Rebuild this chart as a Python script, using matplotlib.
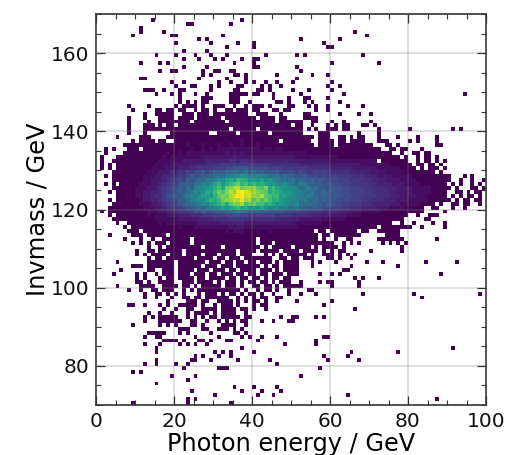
import numpy as np
import matplotlib
matplotlib.use('Agg')
import matplotlib.pyplot as plt
from matplotlib.ticker import MultipleLocator

# bin edges, 1 GeV bins
energy_edges = list(range(0, 101))
mass_edges = list(range(70, 171))

# counts per bin, top row is 169-170 GeV, ten bins per block, "-" is an empty block
# . = empty, 1-9 then a-z for higher counts
count_rows = [
    "-",
    "- ....1..... - .......1..",
    "- - ...11..... ....1.....",
    "- .1........",
    "- .1.....1.. - - - - ......1...",
    ".........1 .........1 1......... ..1....... - - .........1",
    "- - ......1.1. - - ..1....... ..1.......",
    "- - 1........1 ......1... 1......... ........1.",
    "- - - ...1...... 1......... .........1 1.........",
    "- - ..1.....1.",
    "- .....1.... 1....1...1 ...1...... ...1...... .1.1...... ........1.",
    "- - ..1...1... 1.1....1.. 11........",
    "- .1....1.1. - .....1.... 1......... - 1......... ..1.......",
    "- - ..1.....1. - 11........ .1........",
    "- ......1..1 1......1.. 11..11.... - ..1.......",
    "- - .......1.1 .....11.1. ......1... .....1...1",
    "- .11....... ......1... ...1....1. - .1........",
    "- .........1 ..1....... .1..1...1. 1..1..1... 1......... 1.........",
    "- - 1...11...1 .1....11.. ..1.1..1.. .........1 ..1.......",
    "- ..111..1.. .11......1 .....11... .11.1..... 1...1..... 1.........",
    "- .....1...1 .1...1..1. ....11111. 11...1.... ..1....... ...1...... - - ....1.....",
    "- - .1.....111 ....111... .....1...1 ...11....1",
    "- - .1.1.1.11. ....111..1 ......11.1 ...1.1.... ..1.......",
    "........1. ...1...... 1.1111.1.. 111..1..1. 111.1....1 1...1.1..1 ....1...1.",
    ".........1 .....11.11 .11..1.11. 1..11.111. 11...11.11 ......1..1",
    "- ..1..11111 ..111.111. 111111111. .111...1.. ...11..... ..1....1.. 1.........",
    "........1. ..1...1111 .1111.1111 11.1111111 1.1111.11. ...1111...",
    "........1. ...1..1111 1111.11111 111.111111 111111.111 111..11... 1..1...... 1.........",
    "........1. ..111.1.11 .111111111 1111111111 1111111111 .11..1...1 .1.11...11 .1........",
    "........1. ..11111111 1111111111 1111.11111 1.11111111 111.1.1..1 11.11..... ..1....... 1......... .1.1......",
    "........1. ..1......1 111111111. .11111.111 1111.11111 111....111 .......1.. ..1.......",
    ".....1.... .111....11 1111111111 1111111111 1111111111 111111.111 ..11.1.11. ..1....1.. ..1....1..",
    ".........1 .1111.11.. 1111111111 1111111211 1111111.11 11111..111 1.11.1111. ..111..... 1.1....1..",
    ".......111 1111111111 1112111211 1211211211 1211111111 111111.111 1.11111111 1...11.1.. .......11.",
    "..1.1...11 1.11111111 1111211212 1222222222 2212212211 1111111111 1111111111 111..11.11 ...1......",
    "..1....111 1111111121 1212222222 2223232322 2222222222 2222111111 1111111111 111111..1. .11.11....",
    ".1...11111 1111111212 2222222333 3333343333 3333333333 3222222222 2211111111 11111111.1 ..1.11.1..",
    ".1..111111 1111112222 2233333344 4444554554 4444444444 4333333333 2222222222 22.1111111 ..1.11.1.1",
    ".1.1.11111 1111122223 3333444455 5566676666 6666655555 5544444444 3333333322 2222211111 1.11.11.1.",
    ".1.1.11111 1111222233 3444556666 77788999a8 8888777766 6666555555 4444443333 3322222211 11.1.111.1",
    "....111111 1112223335 4657688a79 baacbdcbca cab9a9a888 8787667676 5555544444 3333222221 1111111.1.",
    "..1.111111 1122233445 5768a89bac cdcefegihf ffeecddbca a99a878787 7766665554 4433332222 2111111111 1...1.1...",
    "....111111 1122333456 687a9acbed fhgjkimlkh ihjgifeddc dbcaab9a98 8877766655 5444333322 2211111111 1..1..1..1",
    "..1.1.1111 1222334567 79ab9cdfeg jlikmnplnk mkljhigfhe dcedbbaa9a 9887776666 5544443332 2221111111 .1.1..1.1.",
    "....111111 2223345678 8a9cbefghi lnkpqstpqr ronqkmjihg gecdebcaa9 a998877766 6555444333 3222221111 1.1...11.1",
    "...1.11111 2233445678 9bacdgfhkj mpnqtrvyut sqpokmljhi gfedcdbaca a998877776 6555544333 3222221111 ..11.1.11.",
    ".....11111 2233455689 a9cdfegjih loqpsuxwtu rqsonlmijh gfecedbaba 9a98887766 6655544433 3322211111 .1.1.11.1.",
    "...1.11111 1233445678 8bacefhgjl kmpqrtsvrs oqnpmklihg ffdecbcaba 9988877766 5555444333 2222211111 1.1.11.11.",
    "....111111 1222334567 79abcdegfi jlnkoqpsno pmnkljhigf egdccbba9a 9887766655 5444433322 2221111.1. .11.11..1.",
    "...1111111 1122233456 6789abcbde fgihjkmjkh ihjgefgdec cdbaa9a988 7776655544 4433322221 1111..11.. .1..1.....",
    ".1.1111111 1112223344 5667798a9a abacdcedcb bcaba9a988 8877776655 5544433322 2221111111 1111.....1",
    "...1.11111 1112122233 3444555666 7778899887 7777776666 5555544444 3333222211 1111111111 ..1..111..",
    "....111111 1111122222 2333334444 5555666655 5555554444 4433333322 2222111111 111111111. ....11....",
    ".....1..11 1111112122 2222223333 3344444433 3333333333 3222222211 1111111111 111111..1. .1....1..1",
    ".......1.1 1111111111 1211122222 2222323322 2222222222 2211111111 1111111111 11.1111111 1..1.....1",
    "........11 1.11111111 1111111111 1112122211 1211211111 111111.11. 1111111.11 ..111111..",
    "...1.....1 11.11111.1 1111111111 1111111111 1111111111 1111111.11 .1111111.. ....1111..",
    ".......1.. .1..1..111 1111.11111 1111111111 1.11111111 1111111.1. .1..11.... ..1111111. .......1..",
    ".........1 .1.1.111.1 1111.11111 1111111111 1.111.1111 1111111111 1..1.1.1.. ...1.1.1.1",
    "- ...1..1.11 1111111.11 11.1111111 11.1.11111 .1111.1.11 11.1...... ........1.",
    "- 1..11.1111 11.1111111 111111.111 1.11111.11 11.1111.1. 1.11...... 1.......1.",
    "- 1.1.1111.1 11.1111.11 1.1111.111 ...1.1.1.1 1111.1..11 1.1.1.1...",
    "- ...1.11.11 11111.1111 .11.111.11 11111..11. 11.111...1 1.1..1....",
    ".....1.... ...1111111 .1111111.1 11.11.11.1 1.111.1.11 11...1.1.. .1.......1 ...1...... ....1..... ..1.......",
    ".........1 11.1111111 .111111.11 1.111.1111 11.1.11.11 11...1.... .....1.... .......1..",
    "......1... ...11..111 .1111.111. 111.11.111 1.111.1.11 11........ ...11.....",
    "....1..... 1.1..1.111 .111.111.1 1.111.11.1 1.11.111.1 11.....1.. 1.1....... - ........1.",
    "- 1.1...1.11 .1111.11.1 111.11.11. 11.1.11.11 - ......1.1. ..1.......",
    "- 11.1..1111 ..111.1111 .1.111.1.1 1.11.1.111 ..1....1.1 1......1..",
    ".....1.... .1111..111 1.11.1.111 11.111.1.. 11.11.1.11 111....... 1......1..",
    "........1. .1..11.111 ..1.1.1111 1111111.1. .1.11.1..1 ....11....",
    "- ..1..11.1. 1.1...1.11 1.1.11.1.1 1.1..1...1 ..1...1... ........1. - .1........ ........1.",
    "- ..1..1...1 ..11.11.11 1111..1.1. 1.11..11.. - - - ...1......",
    "- ........1. ...111.11. .1111.1.1. 11.1..1... .1........ 1.........",
    "........11 ..1...1.1. .11111.1.. 1.111.1... 1.11...... ........1.",
    "- .......1.. 1..11..111 1.1111.11. 1..1...... - ......1...",
    "- ...1..1..1 ...1.1111. 1.1111..1.",
    "- ..1.1.1111 1..1.1.1.1 1.11111.11 .......1.. 11....1.1.",
    "- ..1...1111 11..11..1. .1.1.1.11. ..1..1...1 1.........",
    ".........1 ......1.1. 1...11.1.. ..1111..1.",
    "- - .111...11. .111.1.1..",
    "- ...11111.. .1.1.....1 .....11.1.",
    "- ..1..11... .....1.... .1.....1.1 ..1...1... ........11",
    "- .......111 1.1...11.1 ...11..... .1........ ......1...",
    "- ..1...1... .1.1.1..1. - ........1. ......1...",
    "- .....1.... - .......1.. - - - - - .1........",
    "- .....1.... - 1.1.1..... 1......... - .....1.... .......1..",
    "- - .....1.1.. .1..1..... - ........1. ....1.....",
    "- .....1.... ....11...1 ......1... ....1..... .........1 .......1..",
    "- ..1..1.... 1..1...... - ......1...",
    "- - ..1....... .111...... - .......1..",
    ".........1 .1........",
    "- .........1 .....1.... - - ..1.......",
    "- - ...1......",
    "- .....1....",
    "- - - .....1.... 1.....1...",
    "- - ....1..... .......1.. ..1....1..",
    "- - - 1......... .1...1.... - ....1.....",
    "- - ...1.1.... - - - - - .......1..",
    ".........1 - ...1...... ....1.....",
]
x_ticks = [0, 20, 40, 60, 80, 100]
y_ticks = [80, 100, 120, 140, 160]


def decode_rows(rows):
    counts = np.zeros((len(rows), 100))
    for i, row in enumerate(rows):
        blocks = [("." * 10 if b == "-" else b.ljust(10, ".")[:10]) for b in row.split()]
        text = "".join(blocks).ljust(100, ".")
        for j, c in enumerate(text):
            if c != ".":
                counts[i, j] = int(c, 36)
    return counts[::-1]  # lowest mass first


counts = decode_rows(count_rows)
counts = np.ma.masked_equal(counts, 0)

fig = plt.figure(figsize=(5.12, 4.55), dpi=100)
ax = fig.add_axes([96 / 512, 1 - 405 / 455, 390 / 512, 391 / 455])
ax.pcolormesh(energy_edges, mass_edges, counts, cmap='viridis', vmin=1, vmax=32, rasterized=True)

ax.set_xlim(0, 100)
ax.set_ylim(70, 170)
ax.set_xticks(x_ticks)
ax.set_yticks(y_ticks)
ax.xaxis.set_minor_locator(MultipleLocator(5))
ax.yaxis.set_minor_locator(MultipleLocator(5))
ax.tick_params(which='major', direction='in', top=True, right=True, length=6.5, width=0.9, labelsize=14.5, pad=5, color='#333333', labelcolor='#111111')
ax.tick_params(which='minor', direction='in', top=True, right=True, length=3.5, width=0.8, color='#333333')
ax.grid(True, which='major', color='grey', alpha=0.3, lw=1.2)
ax.set_axisbelow(False)
for s in ax.spines.values():
    s.set_linewidth(1.2)
    s.set_color('#333333')

ax.set_xlabel('Photon energy / GeV', fontsize=17.3, labelpad=1)
ax.set_ylabel('Invmass / GeV', fontsize=17.4, labelpad=1)

fig.savefig('out.png', dpi=100)
